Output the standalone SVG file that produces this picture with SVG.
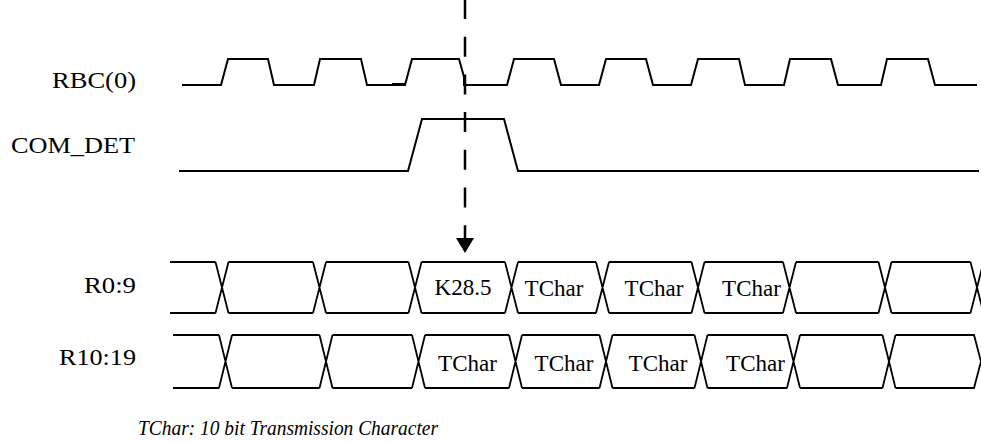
<svg xmlns="http://www.w3.org/2000/svg" width="981" height="443" viewBox="0 0 981 443">
<style>
.lbl{font-family:"Liberation Serif","Times New Roman",serif;font-size:24px;fill:#000}
.in{font-family:"Liberation Serif","Times New Roman",serif;font-size:23px;fill:#000;text-anchor:middle}
.wave{fill:none;stroke:#000;stroke-width:2;stroke-linejoin:miter}
.bus{fill:none;stroke:#000;stroke-width:1.8}
.note{font-family:"Liberation Serif","Times New Roman",serif;font-size:22px;font-style:italic;fill:#000}
</style>
<rect width="981" height="443" fill="#fff"/>
<g id="rbc0">
<text class="lbl" x="136" y="88" text-anchor="end" textLength="84" lengthAdjust="spacingAndGlyphs">RBC(0)</text>
<path class="wave" d="M182,85 L221,85 L228,59 L268,59 L274,85 L314,85 L320,59 L361,59 L367,85 L405,85 L412,59 L459,59 L464,77 L464,85 L507,85 L514,59 L554,59 L561,85 L599,85 L606,59 L646,59 L653,85 L691,85 L698,59 L739,59 L745,85 L784,85 L790,59 L831,59 L838,85 L881,85 L887,59 L928,59 L935,85 L977,85"/>
<path class="wave" d="M392,84 L406,84"/>
</g>
<g id="com_det">
<text class="lbl" x="135" y="153" text-anchor="end" textLength="124" lengthAdjust="spacingAndGlyphs">COM_DET</text>
<path class="wave" d="M179,171 L408,171 L422,119 L504,119 L518,171 L979,171"/>
</g>
<g id="r0_9">
<text class="lbl" x="136" y="293" text-anchor="end" textLength="52" lengthAdjust="spacingAndGlyphs">R0:9</text>
<path class="bus" d="M170,262 L215.5,262 M170,313 L215.5,313
M215.5,262 L228.5,313 M215.5,313 L228.5,262
M228.5,262 L313,262 M228.5,313 L313,313
M313,262 L326,313 M313,313 L326,262
M326,262 L408.5,262 M326,313 L408.5,313
M408.5,262 L421.5,313 M408.5,313 L421.5,262
M421.5,262 L505,262 M421.5,313 L505,313
M505,262 L518,313 M505,313 L518,262
M518,262 L596,262 M518,313 L596,313
M596,262 L609,313 M596,313 L609,262
M609,262 L691.5,262 M609,313 L691.5,313
M691.5,262 L704.5,313 M691.5,313 L704.5,262
M704.5,262 L783,262 M704.5,313 L783,313
M783,262 L796,313 M783,313 L796,262
M796,262 L878.5,262 M796,313 L878.5,313
M878.5,262 L891.5,313 M878.5,313 L891.5,262
M891.5,262 L970.5,262 M891.5,313 L970.5,313
M970.5,262 L983.5,313 M970.5,313 L983.5,262"/>
<text class="in" x="463" y="295">K28.5</text>
<text class="in" x="554" y="296">TChar</text>
<text class="in" x="654" y="296">TChar</text>
<text class="in" x="751.5" y="296">TChar</text>
</g>
<g id="r10_19">
<text class="lbl" x="136" y="365" text-anchor="end" textLength="77" lengthAdjust="spacingAndGlyphs">R10:19</text>
<path class="bus" d="M173,335 L219,335 M173,388 L219,388
M219,335 L232,388 M219,388 L232,335
M232,335 L319.5,335 M232,388 L319.5,388
M319.5,335 L332.5,388 M319.5,388 L332.5,335
M332.5,335 L412,335 M332.5,388 L412,388
M412,335 L425,388 M412,388 L425,335
M425,335 L509,335 M425,388 L509,388
M509,335 L522,388 M509,388 L522,335
M522,335 L599.5,335 M522,388 L599.5,388
M599.5,335 L612.5,388 M599.5,388 L612.5,335
M612.5,335 L694.5,335 M612.5,388 L694.5,388
M694.5,335 L707.5,388 M694.5,388 L707.5,335
M707.5,335 L787,335 M707.5,388 L787,388
M787,335 L800,388 M787,388 L800,335
M800,335 L882.5,335 M800,388 L882.5,388
M882.5,335 L895.5,388 M882.5,388 L895.5,335
M895.5,335 L974,335 L981,361.5 L974,388 L895.5,388"/>
<text class="in" x="467.5" y="371">TChar</text>
<text class="in" x="564" y="371">TChar</text>
<text class="in" x="658" y="371">TChar</text>
<text class="in" x="755.5" y="371">TChar</text>
</g>
<g id="connectors">
<path d="M465,-1 L465,238" fill="none" stroke="#000" stroke-width="2.5" stroke-dasharray="20 17.7"/>
<polygon points="456,238 474,238 465,253" fill="#000"/>
</g>
<g id="note">
<text class="note" x="138" y="435" textLength="300" lengthAdjust="spacingAndGlyphs">TChar: 10 bit Transmission Character</text>
</g>
</svg>
